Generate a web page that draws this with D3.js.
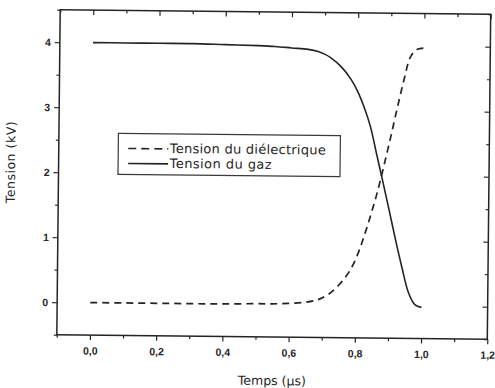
<!DOCTYPE html>
<html>
<head>
<meta charset="utf-8">
<script src="https://cdn.jsdelivr.net/npm/d3@7"></script>
<style>
  html, body { margin: 0; padding: 0; background: #ffffff; }
  svg { display: block; }
  text { font-family: "DejaVu Sans", "Liberation Sans", Arial, sans-serif; fill: #262626; }
</style>
</head>
<body>
<svg id="chart" width="495" height="388"></svg>
<script>
// Time axis (µs) shared by both curves
const time = [0, 0.1, 0.2, 0.3, 0.4, 0.5, 0.55, 0.6, 0.65, 0.68, 0.7, 0.72, 0.75, 0.78, 0.8, 0.82, 0.84, 0.86, 0.88, 0.9, 0.92, 0.94, 0.96, 0.98, 1.0];
// Voltage across the dielectric (kV)
const dielectricVoltage = [0, 0, 0, 0, 0, 0.01, 0.01, 0.02, 0.04, 0.07, 0.11, 0.17, 0.31, 0.51, 0.71, 0.99, 1.32, 1.68, 2.10, 2.55, 3.02, 3.47, 3.84, 3.95, 3.97];
// Voltage across the gas gap (kV)
const gasVoltage = [4.0, 4.0, 4.0, 4.0, 3.99, 3.98, 3.97, 3.95, 3.93, 3.90, 3.86, 3.80, 3.67, 3.48, 3.30, 3.06, 2.76, 2.33, 1.90, 1.46, 1.01, 0.59, 0.21, 0.02, -0.02];

const seriesNames = ["Tension du diélectrique", "Tension du gaz"];
const xMajorTicks = [0, 0.2, 0.4, 0.6, 0.8, 1.0, 1.2];
const xMinorTicks = [-0.1, 0.1, 0.3, 0.5, 0.7, 0.9, 1.1];
const yMajorTicks = [0, 1, 2, 3, 4];
const yMinorTicks = [-0.5, 0.5, 1.5, 2.5, 3.5, 4.5];
const xTitle = "Temps (µs)";
const yTitle = "Tension (kV)";

const frame = { left: 58.5, right: 489, top: 12, bottom: 337 };
const ink = "#242424";

const svg = d3.select("#chart");
const cx = (frame.left + frame.right) / 2, cy = (frame.top + frame.bottom) / 2;
// the printed figure sits with a slight clockwise tilt
const g = svg.append("g").attr("transform", `rotate(0.6 ${cx} ${cy})`);

const x = d3.scaleLinear().domain([-0.1, 1.2]).range([frame.left, frame.right]);
const y = d3.scaleLinear().domain([-0.5, 4.5]).range([frame.bottom, frame.top]);
const fmt = d => d3.format(".1f")(d).replace(".", ",");

function styleAxis(sel) {
  sel.select(".domain").remove();
  sel.selectAll(".tick line").attr("stroke", ink).attr("stroke-width", 1.2);
  sel.selectAll(".tick text").attr("fill", ink).style("font-size", "10.5px")
     .style("font-family", "'Liberation Sans', Arial, sans-serif").style("font-weight", "bold");
}

// bottom axis: outward ticks with labels
g.append("g").attr("transform", `translate(0,${frame.bottom})`)
  .call(d3.axisBottom(x).tickValues(xMajorTicks).tickFormat(fmt).tickSize(5).tickPadding(7))
  .call(styleAxis);
g.append("g").attr("transform", `translate(0,${frame.bottom})`)
  .call(d3.axisBottom(x).tickValues(xMinorTicks).tickFormat("").tickSize(3))
  .call(styleAxis);
// top axis: inward ticks
g.append("g").attr("transform", `translate(0,${frame.top})`)
  .call(d3.axisBottom(x).tickValues(xMajorTicks).tickFormat("").tickSize(5))
  .call(styleAxis);
g.append("g").attr("transform", `translate(0,${frame.top})`)
  .call(d3.axisBottom(x).tickValues(xMinorTicks).tickFormat("").tickSize(3))
  .call(styleAxis);
// left axis: outward ticks with labels
g.append("g").attr("transform", `translate(${frame.left},0)`)
  .call(d3.axisLeft(y).tickValues(yMajorTicks).tickFormat(d3.format("d")).tickSize(5).tickPadding(4))
  .call(styleAxis);
g.append("g").attr("transform", `translate(${frame.left},0)`)
  .call(d3.axisLeft(y).tickValues(yMinorTicks).tickFormat("").tickSize(3))
  .call(styleAxis);
// right axis: inward ticks
g.append("g").attr("transform", `translate(${frame.right},0)`)
  .call(d3.axisLeft(y).tickValues(yMajorTicks).tickFormat("").tickSize(5))
  .call(styleAxis);
g.append("g").attr("transform", `translate(${frame.right},0)`)
  .call(d3.axisLeft(y).tickValues(yMinorTicks).tickFormat("").tickSize(3))
  .call(styleAxis);

// plot frame
g.append("rect")
  .attr("x", frame.left).attr("y", frame.top)
  .attr("width", frame.right - frame.left).attr("height", frame.bottom - frame.top)
  .attr("fill", "none").attr("stroke", ink).attr("stroke-width", 1.5);

// curves
const line = d3.line().x(d => x(d[0])).y(d => y(d[1])).curve(d3.curveCatmullRom.alpha(0.5));
g.append("path")
  .datum(time.map((t, i) => [t, dielectricVoltage[i]]))
  .attr("d", line).attr("fill", "none").attr("stroke", ink)
  .attr("stroke-width", 1.7).attr("stroke-dasharray", "7,5");
g.append("path")
  .datum(time.map((t, i) => [t, gasVoltage[i]]))
  .attr("d", line).attr("fill", "none").attr("stroke", ink)
  .attr("stroke-width", 1.6);

// axis titles
g.append("text")
  .attr("x", 274).attr("y", 385)
  .attr("text-anchor", "middle").style("font-size", "12.5px")
  .text(xTitle);
g.append("text")
  .attr("transform", "translate(15,165) rotate(-90)")
  .attr("text-anchor", "middle").style("font-size", "12.5px")
  .attr("textLength", 82).attr("lengthAdjust", "spacing")
  .text(yTitle);

// legend
const legend = g.append("g");
legend.append("rect")
  .attr("x", 118).attr("y", 135).attr("width", 222).attr("height", 41)
  .attr("fill", "#ffffff").attr("stroke", "#3a3a3a").attr("stroke-width", 1.2);
const rows = [
  { name: seriesNames[0], dash: "8,5", ly: 150, by: 154 },
  { name: seriesNames[1], dash: null, ly: 165, by: 169 }
];
rows.forEach(r => {
  legend.append("line")
    .attr("x1", 128).attr("x2", 168).attr("y1", r.ly).attr("y2", r.ly)
    .attr("stroke", ink).attr("stroke-width", 1.6)
    .attr("stroke-dasharray", r.dash);
  legend.append("text")
    .attr("x", 169.5).attr("y", r.by)
    .style("font-size", "13px")
    .attr("textLength", r.name.length > 15 ? 156 : 102).attr("lengthAdjust", "spacing")
    .text(r.name);
});
</script>
</body>
</html>
